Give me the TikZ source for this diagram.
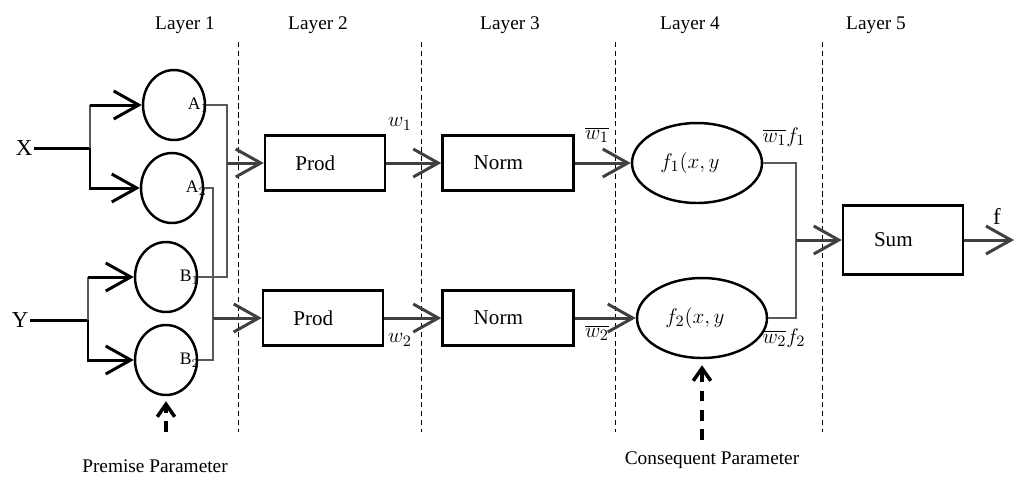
\documentclass[tikz,border=0pt]{standalone}
\usepackage{fontspec}
\setmainfont{Liberation Serif}
\usepackage{tikz}
\usetikzlibrary{arrows.meta, shapes.geometric}
\definecolor{dgray}{gray}{0.25}
\tikzstyle{lbl}=[font=\fontsize{11}{13}\selectfont]
\tikzstyle{mth}=[font=\fontsize{13}{15}\selectfont, inner sep=1pt]
\tikzstyle{mf}=[draw, shape=ellipse, line width=1.4pt, minimum width=1.24cm, minimum height=1.4cm, inner sep=0pt]
\tikzstyle{blk}=[draw, shape=rectangle, line width=1.4pt, minimum width=2.4cm, minimum height=1.1cm, font=\fontsize{12}{14}\selectfont]
\tikzstyle{cons}=[draw, shape=ellipse, line width=1.4pt, minimum width=2.6cm, minimum height=1.6cm, inner sep=0pt, font=\fontsize{13}{15}\selectfont]
\tikzstyle{arr}=[line width=1.7pt, -{Straight Barb[length=0.5cm,width=0.56cm]}]
\tikzstyle{thk}=[line width=1.7pt]
\tikzstyle{wire}=[line width=0.6pt, gray!70!black]
\tikzstyle{sep}=[densely dashed, line width=0.5pt]
\tikzstyle{param}=[line width=2pt, dash pattern=on 6pt off 5pt, -{Straight Barb[length=2.5mm,width=3.5mm]}]
\tikzstyle{mflbl}=[label distance=-14pt, font=\fontsize{10}{12}\selectfont]

\begin{document}
\begin{tikzpicture}[x=0.02cm, y=-0.02cm]
\useasboundingbox (0,0) rectangle (1014,481);
\foreach \x/\n in {185/1, 318/2, 510/3, 690/4, 876/5}
{
\node[lbl] (L\n) at (\x,25) {Layer \n};
}
\foreach \x in {238,421,615,822}
{
\draw[sep] (\x,42) -- (\x,432);
}

% layer 1
\node[mth] (X) at (24,148) {X};
\node[mth] (Y) at (20,320) {Y};
\node[mf, label={[mflbl]0:A$_1$}] (A1) at (174,105) {};
\node[mf, label={[mflbl]0:A$_2$}] (A2) at (172,188) {};
\node[mf, label={[mflbl]0:B$_1$}] (B1) at (166,277) {};
\node[mf, label={[mflbl]0:B$_2$}] (B2) at (166,360) {};
\coordinate (xj) at (90,148);
\coordinate (yj) at (88,320);
\draw[thk] (X) -- (xj);
\draw[wire] (xj) -- (xj |- A1);
\draw[arr] (xj |- A1) -- (A1);
\draw[arr] (xj) |- (A2);
\draw[thk] (Y) -- (yj);
\draw[wire] (yj) -- (yj |- B1);
\draw[arr] (yj |- B1) -- (B1);
\draw[arr] (yj) |- (B2);

\coordinate (j1) at (227,163);
\coordinate (j2) at (213,318);
\draw[wire] (A1) -| (j1);
\draw[wire] (B1) -| (j1);
\draw[wire] (A2) -| (j2);
\draw[wire] (B2) -| (j2);

% layers 2 to 4
\node[blk] (P1) at (325,163) {Prod\hspace*{11pt}};
\node[blk] (P2) at (323,318) {Prod\hspace*{11pt}};
\node[blk, minimum width=2.62cm] (N1) at (508,163) {Norm\hspace*{11pt}};
\node[blk, minimum width=2.62cm] (N2) at (508,318) {Norm\hspace*{11pt}};
\node[cons] (F1) at (697,163) {$f_1(x,y$\hspace*{8pt}};
\node[cons] (F2) at (702,318) {$f_2(x,y$\hspace*{8pt}};
\draw[arr, dgray] (j1) -- (P1);
\draw[arr, dgray] (j2) -- (P2);
\draw[arr, dgray] (P1) -- (N1);
\draw[arr, dgray] (P2) -- (N2);
\draw[arr, dgray] (N1) -- (F1);
\draw[arr, dgray] (N2) -- (F2);
\node[mth] (w1) at (400,124) {$w_1$};
\node[mth] (w2) at (400,340) {$w_2$};
\node[mth] (nw1) at (597,135) {$\overline{w_1}$};
\node[mth] (nw2) at (597,333) {$\overline{w_2}$};
\node[mth] (wf1) at (784,137) {$\overline{w_1}f_1$};
\node[mth] (wf2) at (784,338) {$\overline{w_2}f_2$};

% layer 5
\coordinate (j3) at (796,240);
\draw[wire] (F1) -| (j3);
\draw[wire] (F2) -| (j3);
\node[blk, minimum height=1.38cm] (S) at (903,240) {Sum\hspace*{11pt}};
\coordinate (fo) at (1014,240);
\draw[arr, dgray] (j3) -- (S);
\draw[arr, dgray] (S) -- (fo);
\node[mth] (fl) at (997,216) {f};

% parameters
\node[lbl] (pp) at (155,466) {Premise Parameter};
\node[lbl] (cp) at (712,460) {Consequent Parameter};
\coordinate (pa) at (166,432);
\coordinate (ca) at (702,440);
\draw[param, shorten >=0.1cm] (pa) -- (B2) ;
\draw[param, shorten >=0.12cm] (ca) -- (F2);
\end{tikzpicture}
\end{document}
